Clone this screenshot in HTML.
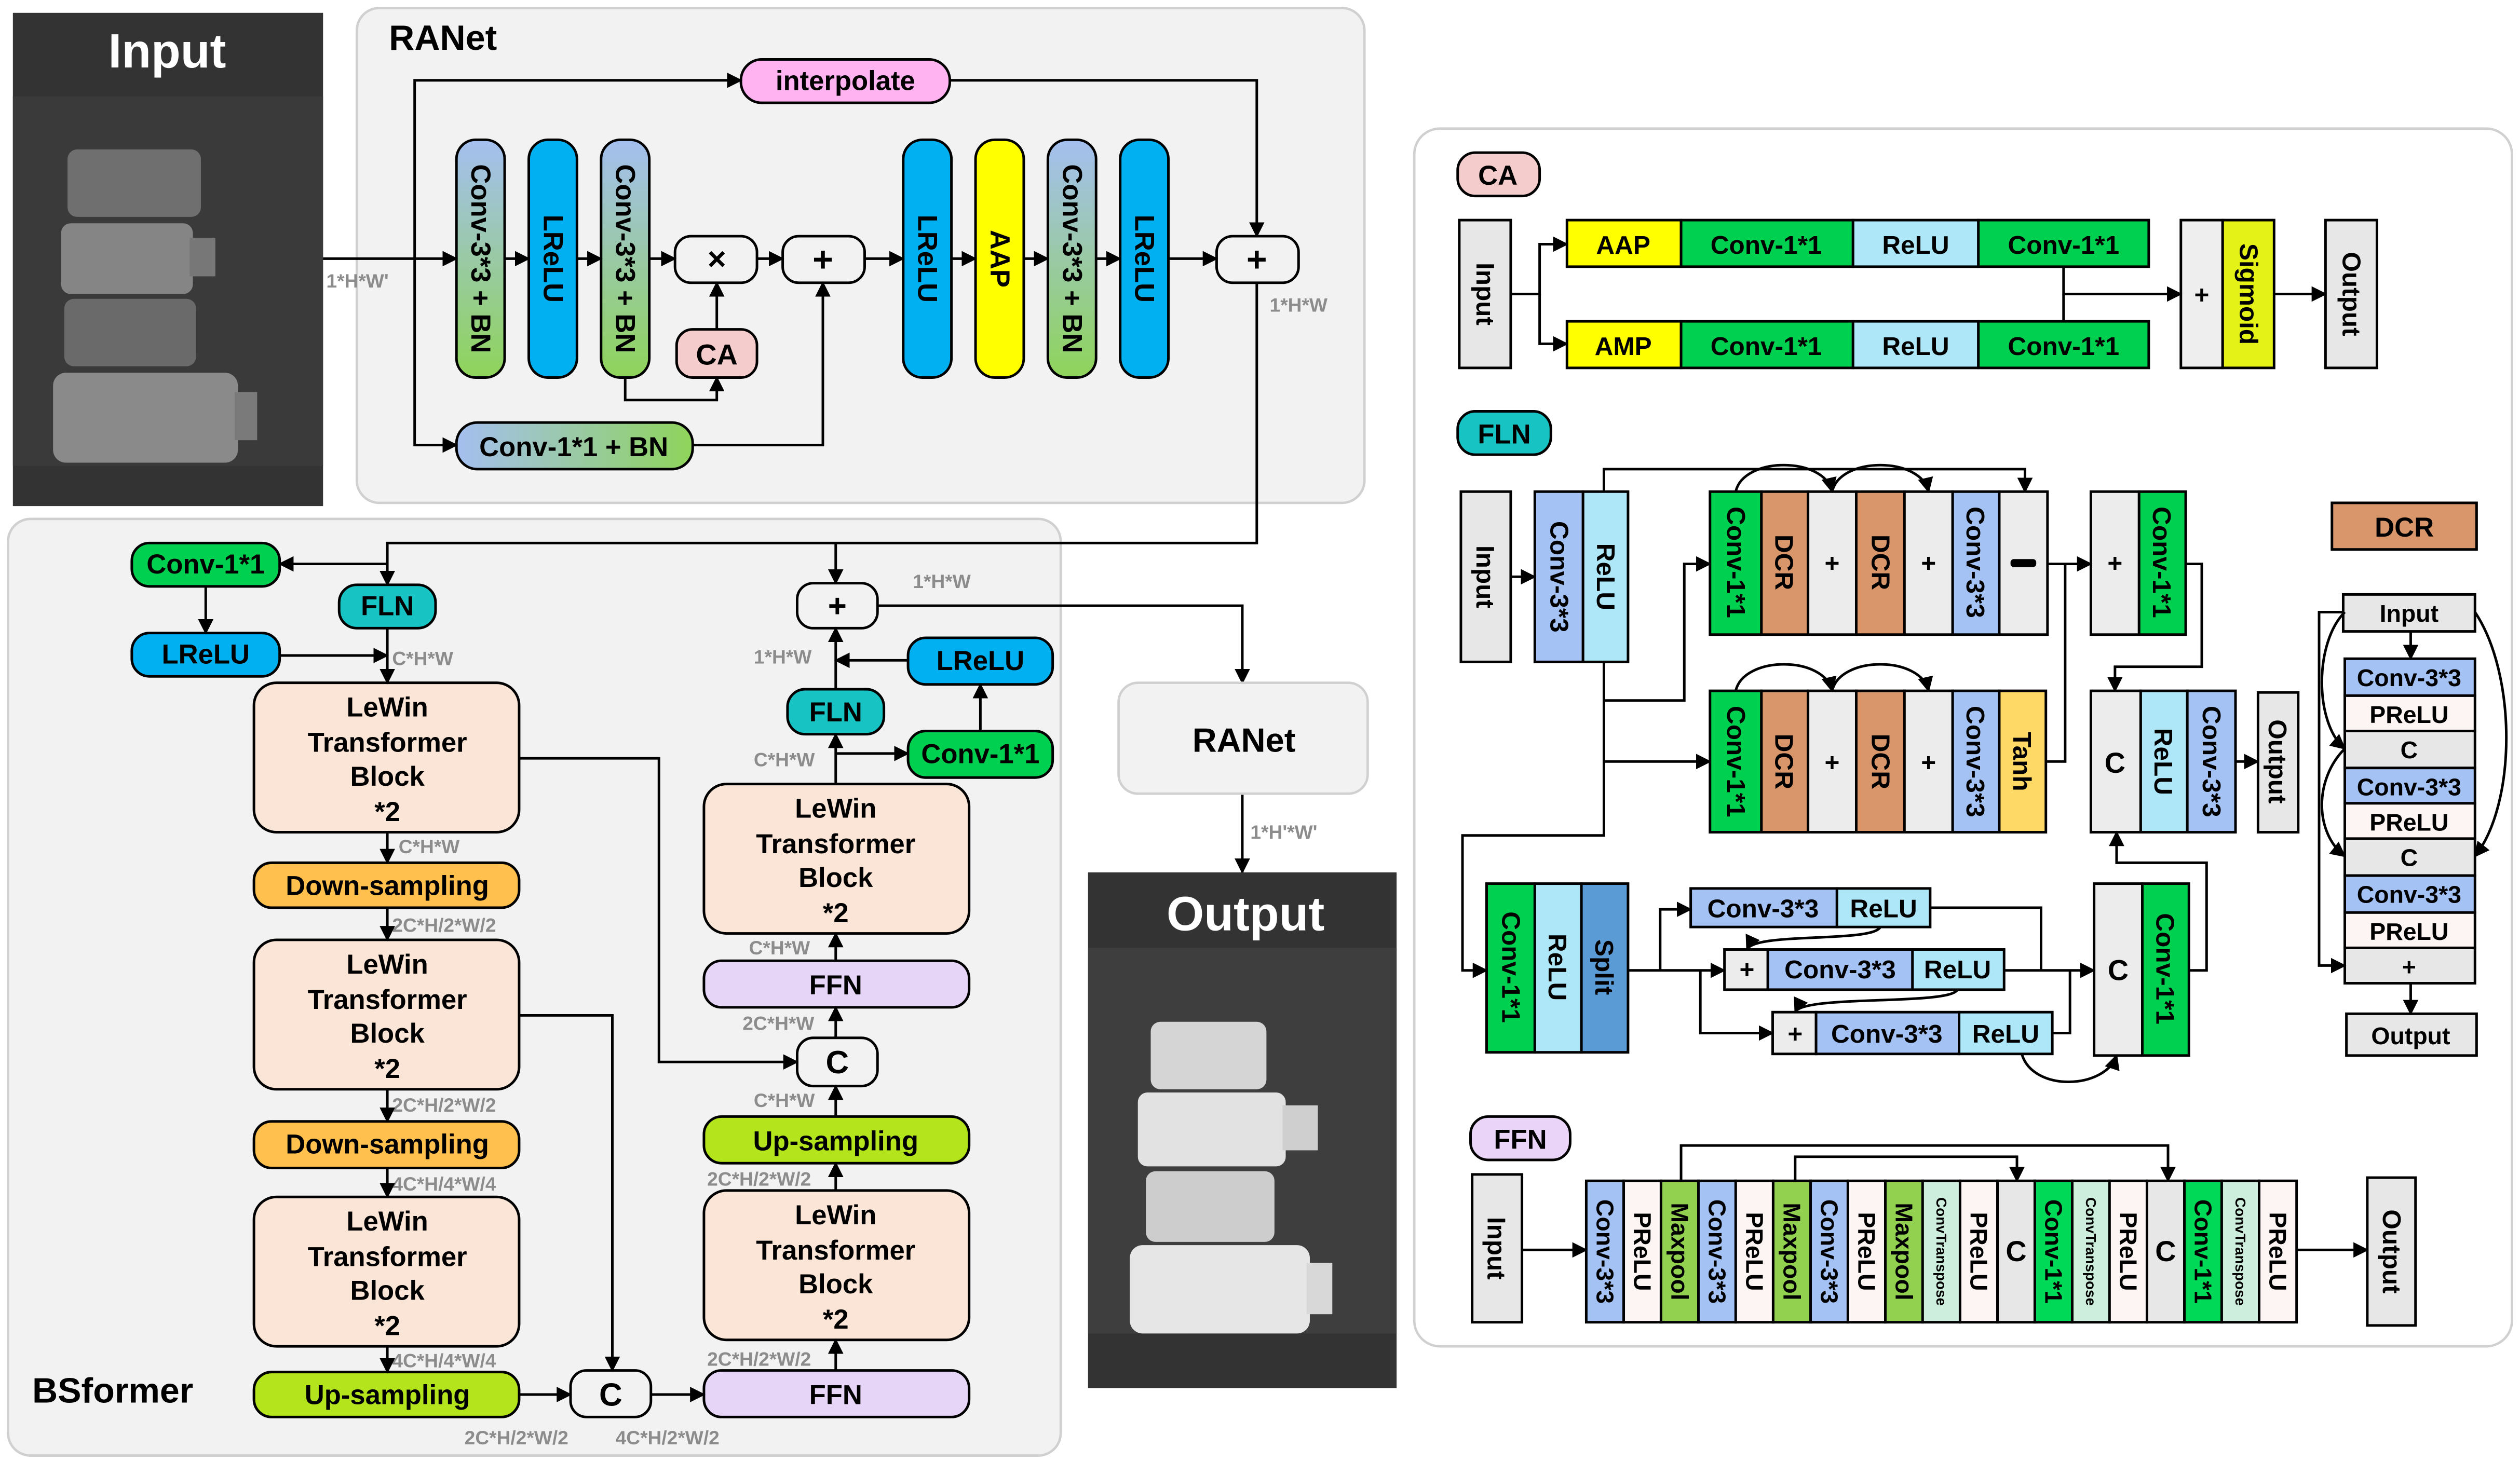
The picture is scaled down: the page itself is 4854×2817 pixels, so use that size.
<!DOCTYPE html>
<html><head><meta charset="utf-8"><style>
html,body{margin:0;padding:0;background:#fff}
svg{display:block}
text{font-family:"Liberation Sans",sans-serif;font-weight:bold;fill:#000}
text.g,.g text{fill:#8c8c8c;font-size:12px}
.s{stroke:#000;stroke-width:1.6}
.l{fill:none;stroke:#000;stroke-width:1.6}
</style></head><body>
<svg width="4854" height="2817" viewBox="0 0 1568 910" xmlns="http://www.w3.org/2000/svg">
<defs>
<marker id="a" viewBox="0 0 10 10" refX="9" refY="5" markerWidth="6" markerHeight="6" orient="auto"><path d="M0,0L10,5L0,10z" fill="#000"/></marker>
<linearGradient id="gb" x1="0" y1="0" x2="0" y2="1"><stop offset="0" stop-color="#a4bff0"/><stop offset="1" stop-color="#8fd45a"/></linearGradient>
<linearGradient id="gh" x1="0" y1="0" x2="1" y2="0"><stop offset="0" stop-color="#a4bff0"/><stop offset="1" stop-color="#8fd45a"/></linearGradient>
</defs>
<rect width="1568" height="910" fill="#fff"/>

<!-- Input image -->
<rect x="8" y="8" width="193" height="307" fill="#333"/>
<rect x="8" y="60" width="193" height="230" fill="#3a3a3a"/>
<rect x="42" y="93" width="83" height="42" rx="6" fill="#6f6f6f"/>
<rect x="38" y="139" width="82" height="44" rx="6" fill="#858585"/><rect x="118" y="148" width="16" height="24" fill="#777"/>
<rect x="40" y="186" width="82" height="42" rx="6" fill="#6a6a6a"/>
<rect x="33" y="232" width="115" height="56" rx="8" fill="#8a8a8a"/><rect x="146" y="244" width="14" height="30" fill="#7a7a7a"/>
<text x="104" y="42" font-size="30" style="fill:#fff" text-anchor="middle">Input</text>

<!-- RANet panel -->
<rect x="222" y="5" width="627" height="308" rx="14" fill="#f2f2f2" stroke="#d0d0d0" stroke-width="1.5"/>
<text x="242" y="31" font-size="22">RANet</text>
<rect x="461" y="37" width="130" height="27" rx="13" fill="#ffb3f0" class="s"/>
<text x="526" y="56" font-size="17" text-anchor="middle">interpolate</text>

<rect x="284" y="87" width="30" height="148" rx="12" fill="url(#gb)" class="s"/>
<text transform="translate(299,161) rotate(90)" font-size="17" text-anchor="middle" dominant-baseline="central">Conv-3*3 + BN</text>
<rect x="329" y="87" width="30" height="148" rx="12" fill="#00b0f0" class="s"/>
<text transform="translate(344,161) rotate(90)" font-size="17" text-anchor="middle" dominant-baseline="central">LReLU</text>
<rect x="374" y="87" width="30" height="148" rx="12" fill="url(#gb)" class="s"/>
<text transform="translate(389,161) rotate(90)" font-size="17" text-anchor="middle" dominant-baseline="central">Conv-3*3 + BN</text>
<rect x="420" y="147" width="51" height="29" rx="10" fill="#f2f2f2" class="s"/>
<text x="446" y="168" font-size="20" text-anchor="middle">×</text>
<rect x="487" y="147" width="51" height="29" rx="10" fill="#f2f2f2" class="s"/>
<text x="512" y="169" font-size="22" text-anchor="middle">+</text>
<rect x="421" y="205" width="50" height="30" rx="10" fill="#f4cccc" class="s"/>
<text x="446" y="227" font-size="18" text-anchor="middle">CA</text>
<rect x="562" y="87" width="30" height="148" rx="12" fill="#00b0f0" class="s"/>
<text transform="translate(577,161) rotate(90)" font-size="17" text-anchor="middle" dominant-baseline="central">LReLU</text>
<rect x="607" y="87" width="30" height="148" rx="12" fill="#ffff00" class="s"/>
<text transform="translate(622,161) rotate(90)" font-size="17" text-anchor="middle" dominant-baseline="central">AAP</text>
<rect x="652" y="87" width="30" height="148" rx="12" fill="url(#gb)" class="s"/>
<text transform="translate(667,161) rotate(90)" font-size="17" text-anchor="middle" dominant-baseline="central">Conv-3*3 + BN</text>
<rect x="697" y="87" width="30" height="148" rx="12" fill="#00b0f0" class="s"/>
<text transform="translate(712,161) rotate(90)" font-size="17" text-anchor="middle" dominant-baseline="central">LReLU</text>
<rect x="757" y="147" width="51" height="29" rx="10" fill="#f2f2f2" class="s"/>
<text x="782" y="169" font-size="22" text-anchor="middle">+</text>
<rect x="284" y="263" width="147" height="29" rx="13" fill="url(#gh)" class="s"/>
<text x="357" y="284" font-size="17" text-anchor="middle">Conv-1*1 + BN</text>
<text x="203" y="179" class="g">1*H*W'</text>
<text x="790" y="194" class="g">1*H*W</text>

<g class="l" marker-end="url(#a)">
<path d="M201 161H284"/><path d="M258 161V50H461"/><path d="M591 50H782V147"/><path d="M258 161V277H284"/>
<path d="M314 161H329"/><path d="M359 161H374"/><path d="M404 161H420"/><path d="M471 161H487"/><path d="M538 161H562"/>
<path d="M592 161H607"/><path d="M637 161H652"/><path d="M682 161H697"/><path d="M727 161H757"/>
<path d="M389 235V249H446V235"/><path d="M446 205V176"/><path d="M431 277H512V176"/>
</g>

<!-- BSformer panel -->
<rect x="5" y="323" width="655" height="583" rx="14" fill="#f2f2f2" stroke="#d0d0d0" stroke-width="1.5"/>
<g class="l" marker-end="url(#a)">
<path d="M782 176V338H241V364"/><path d="M520 338V363"/>
</g>
<text x="20" y="873" font-size="22">BSformer</text>

<rect x="82" y="338" width="92" height="27" rx="11" fill="#00d050" class="s"/><text x="128" y="357" font-size="17" text-anchor="middle">Conv-1*1</text>
<rect x="211" y="364" width="60" height="27" rx="11" fill="#17c3c3" class="s"/><text x="241" y="383" font-size="17" text-anchor="middle">FLN</text>
<rect x="82" y="394" width="92" height="27" rx="11" fill="#00b0f0" class="s"/><text x="128" y="413" font-size="17" text-anchor="middle">LReLU</text>

<g font-size="17">
<rect x="158" y="425" width="165" height="93" rx="14" fill="#fbe5d6" class="s"/>
<text x="241" y="446" text-anchor="middle">LeWin</text><text x="241" y="468" text-anchor="middle">Transformer</text><text x="241" y="489" text-anchor="middle">Block</text><text x="241" y="511" text-anchor="middle">*2</text>
<rect x="158" y="537" width="165" height="28" rx="11" fill="#ffc04d" class="s"/><text x="241" y="557" text-anchor="middle">Down-sampling</text>
<rect x="158" y="585" width="165" height="93" rx="14" fill="#fbe5d6" class="s"/>
<text x="241" y="606" text-anchor="middle">LeWin</text><text x="241" y="628" text-anchor="middle">Transformer</text><text x="241" y="649" text-anchor="middle">Block</text><text x="241" y="671" text-anchor="middle">*2</text>
<rect x="158" y="698" width="165" height="29" rx="11" fill="#ffc04d" class="s"/><text x="241" y="718" text-anchor="middle">Down-sampling</text>
<rect x="158" y="745" width="165" height="93" rx="14" fill="#fbe5d6" class="s"/>
<text x="241" y="766" text-anchor="middle">LeWin</text><text x="241" y="788" text-anchor="middle">Transformer</text><text x="241" y="809" text-anchor="middle">Block</text><text x="241" y="831" text-anchor="middle">*2</text>
<rect x="158" y="854" width="165" height="28" rx="11" fill="#b4e51c" class="s"/><text x="241" y="874" text-anchor="middle">Up-sampling</text>
<rect x="355" y="853" width="50" height="29" rx="10" fill="#f2f2f2" class="s"/><text x="380" y="875" font-size="20" text-anchor="middle">C</text>
<rect x="438" y="853" width="165" height="29" rx="11" fill="#e6d5f7" class="s"/><text x="520" y="874" text-anchor="middle">FFN</text>
<rect x="438" y="741" width="165" height="93" rx="14" fill="#fbe5d6" class="s"/>
<text x="520" y="762" text-anchor="middle">LeWin</text><text x="520" y="784" text-anchor="middle">Transformer</text><text x="520" y="805" text-anchor="middle">Block</text><text x="520" y="827" text-anchor="middle">*2</text>
<rect x="438" y="695" width="165" height="29" rx="11" fill="#b4e51c" class="s"/><text x="520" y="716" text-anchor="middle">Up-sampling</text>
<rect x="496" y="646" width="50" height="30" rx="10" fill="#f2f2f2" class="s"/><text x="521" y="668" font-size="20" text-anchor="middle">C</text>
<rect x="438" y="598" width="165" height="29" rx="11" fill="#e6d5f7" class="s"/><text x="520" y="619" text-anchor="middle">FFN</text>
<rect x="438" y="488" width="165" height="93" rx="14" fill="#fbe5d6" class="s"/>
<text x="520" y="509" text-anchor="middle">LeWin</text><text x="520" y="531" text-anchor="middle">Transformer</text><text x="520" y="552" text-anchor="middle">Block</text><text x="520" y="574" text-anchor="middle">*2</text>
<rect x="565" y="455" width="90" height="29" rx="11" fill="#00d050" class="s"/><text x="610" y="475" text-anchor="middle">Conv-1*1</text>
<rect x="490" y="429" width="60" height="28" rx="11" fill="#17c3c3" class="s"/><text x="520" y="449" text-anchor="middle">FLN</text>
<rect x="565" y="397" width="90" height="29" rx="11" fill="#00b0f0" class="s"/><text x="610" y="417" text-anchor="middle">LReLU</text>
<rect x="496" y="363" width="50" height="28" rx="10" fill="#f2f2f2" class="s"/><text x="521" y="384" font-size="20" text-anchor="middle">+</text>
</g>

<g>
<text class="g" x="244" y="414">C*H*W</text><text class="g" x="248" y="531">C*H*W</text><text class="g" x="244" y="580">2C*H/2*W/2</text>
<text class="g" x="244" y="692">2C*H/2*W/2</text><text class="g" x="244" y="741">4C*H/4*W/4</text><text class="g" x="244" y="851">4C*H/4*W/4</text>
<text class="g" x="289" y="899">2C*H/2*W/2</text><text class="g" x="383" y="899">4C*H/2*W/2</text><text class="g" x="440" y="850">2C*H/2*W/2</text>
<text class="g" x="440" y="738">2C*H/2*W/2</text><text class="g" x="469" y="689">C*H*W</text><text class="g" x="462" y="641">2C*H*W</text>
<text class="g" x="466" y="594">C*H*W</text><text class="g" x="469" y="477">C*H*W</text><text class="g" x="469" y="413">1*H*W</text><text class="g" x="568" y="366">1*H*W</text>
<text class="g" x="778" y="522">1*H'*W'</text>
</g>

<g class="l" marker-end="url(#a)">
<path d="M241 351H174"/><path d="M128 365V394"/><path d="M174 408H241"/><path d="M241 391V425"/>
<path d="M241 518V537"/><path d="M241 565V585"/><path d="M241 678V698"/><path d="M241 727V745"/><path d="M241 838V854"/>
<path d="M323 472H410V661H496"/><path d="M323 632H381V853"/><path d="M323 868H355"/><path d="M405 868H438"/>
<path d="M520 853V834"/><path d="M520 741V724"/><path d="M520 695V676"/><path d="M520 646V627"/><path d="M520 598V581"/>
<path d="M520 488V457"/><path d="M520 469H565"/><path d="M610 455V426"/><path d="M565 411H520"/><path d="M520 429V391"/>
<path d="M546 377H773V425"/><path d="M773 494V543"/>
</g>

<!-- RANet box -->
<rect x="696" y="425" width="155" height="69" rx="12" fill="#f2f2f2" stroke="#d0d0d0" stroke-width="1.5"/>
<text x="774" y="468" font-size="21" text-anchor="middle">RANet</text>

<!-- Output image -->
<rect x="677" y="543" width="192" height="321" fill="#333"/>
<rect x="677" y="590" width="192" height="240" fill="#3e3e3e"/>
<rect x="716" y="636" width="72" height="42" rx="6" fill="#d5d5d5"/>
<rect x="708" y="680" width="92" height="46" rx="6" fill="#e2e2e2"/><rect x="798" y="688" width="22" height="28" fill="#cfcfcf"/>
<rect x="713" y="729" width="80" height="44" rx="6" fill="#cdcdcd"/>
<rect x="703" y="775" width="112" height="55" rx="8" fill="#e6e6e6"/><rect x="813" y="786" width="16" height="32" fill="#d8d8d8"/>
<text x="775" y="579" font-size="30" style="fill:#fff" text-anchor="middle">Output</text>

<!-- Right panel -->
<rect x="880" y="80" width="683" height="758" rx="16" fill="#fff" stroke="#d0d0d0" stroke-width="1.5"/>

<!-- CA -->
<rect x="907" y="95" width="51" height="27" rx="11" fill="#f4cccc" class="s"/><text x="932" y="115" font-size="17" text-anchor="middle">CA</text>
<rect x="908" y="137" width="32" height="92" fill="#e7e7e7" class="s"/>
<text transform="translate(924,183) rotate(90)" font-size="16" text-anchor="middle" dominant-baseline="central">Input</text>
<g font-size="16">
<rect x="975" y="137" width="71" height="29" fill="#ffff00" class="s"/><text x="1010" y="158" text-anchor="middle">AAP</text>
<rect x="1046" y="137" width="107" height="29" fill="#00d050" class="s"/><text x="1099" y="158" text-anchor="middle">Conv-1*1</text>
<rect x="1153" y="137" width="78" height="29" fill="#aee8f8" class="s"/><text x="1192" y="158" text-anchor="middle">ReLU</text>
<rect x="1231" y="137" width="106" height="29" fill="#00d050" class="s"/><text x="1284" y="158" text-anchor="middle">Conv-1*1</text>
<rect x="975" y="200" width="71" height="29" fill="#ffff00" class="s"/><text x="1010" y="221" text-anchor="middle">AMP</text>
<rect x="1046" y="200" width="107" height="29" fill="#00d050" class="s"/><text x="1099" y="221" text-anchor="middle">Conv-1*1</text>
<rect x="1153" y="200" width="78" height="29" fill="#aee8f8" class="s"/><text x="1192" y="221" text-anchor="middle">ReLU</text>
<rect x="1231" y="200" width="106" height="29" fill="#00d050" class="s"/><text x="1284" y="221" text-anchor="middle">Conv-1*1</text>
<rect x="1357" y="137" width="26" height="92" fill="#eee" class="s"/><text x="1370" y="189" text-anchor="middle">+</text>
<rect x="1383" y="137" width="32" height="92" fill="#e5f218" class="s"/>
<text transform="translate(1399,183) rotate(90)" text-anchor="middle" dominant-baseline="central">Sigmoid</text>
<rect x="1447" y="137" width="32" height="92" fill="#e7e7e7" class="s"/>
<text transform="translate(1463,183) rotate(90)" text-anchor="middle" dominant-baseline="central">Output</text>
</g>
<g class="l" marker-end="url(#a)">
<path d="M940 183H958V152H975"/><path d="M958 183V214H975"/><path d="M1284 166V183H1357"/><path d="M1415 183H1447"/>
</g>
<path d="M1284 200V183" class="l"/>

<!-- FLN -->
<rect x="907" y="256" width="58" height="27" rx="11" fill="#17c3c3" class="s"/><text x="936" y="276" font-size="17" text-anchor="middle">FLN</text>
<g font-size="16">
<rect x="909" y="306" width="31" height="106" fill="#e7e7e7" class="s"/>
<text transform="translate(924,359) rotate(90)" text-anchor="middle" dominant-baseline="central">Input</text>
<rect x="955" y="306" width="30" height="106" fill="#a4c2f4" class="s"/>
<text transform="translate(970,359) rotate(90)" text-anchor="middle" dominant-baseline="central">Conv-3*3</text>
<rect x="985" y="306" width="28" height="106" fill="#aee8f8" class="s"/>
<text transform="translate(999,359) rotate(90)" text-anchor="middle" dominant-baseline="central">ReLU</text>

<rect x="1064" y="306" width="32" height="89" fill="#00d050" class="s"/><text transform="translate(1080,350) rotate(90)" text-anchor="middle" dominant-baseline="central">Conv-1*1</text>
<rect x="1096" y="306" width="29" height="89" fill="#d9966a" class="s"/><text transform="translate(1110,350) rotate(90)" text-anchor="middle" dominant-baseline="central">DCR</text>
<rect x="1125" y="306" width="30" height="89" fill="#ececec" class="s"/><text x="1140" y="356" text-anchor="middle">+</text>
<rect x="1155" y="306" width="30" height="89" fill="#d9966a" class="s"/><text transform="translate(1170,350) rotate(90)" text-anchor="middle" dominant-baseline="central">DCR</text>
<rect x="1185" y="306" width="30" height="89" fill="#ececec" class="s"/><text x="1200" y="356" text-anchor="middle">+</text>
<rect x="1215" y="306" width="29" height="89" fill="#a4c2f4" class="s"/><text transform="translate(1229,350) rotate(90)" text-anchor="middle" dominant-baseline="central">Conv-3*3</text>
<rect x="1244" y="306" width="30" height="89" fill="#ececec" class="s"/><rect x="1251" y="348" width="16" height="5" rx="2" fill="#000"/>

<rect x="1064" y="430" width="32" height="88" fill="#00d050" class="s"/><text transform="translate(1080,474) rotate(90)" text-anchor="middle" dominant-baseline="central">Conv-1*1</text>
<rect x="1096" y="430" width="29" height="88" fill="#d9966a" class="s"/><text transform="translate(1110,474) rotate(90)" text-anchor="middle" dominant-baseline="central">DCR</text>
<rect x="1125" y="430" width="30" height="88" fill="#ececec" class="s"/><text x="1140" y="480" text-anchor="middle">+</text>
<rect x="1155" y="430" width="30" height="88" fill="#d9966a" class="s"/><text transform="translate(1170,474) rotate(90)" text-anchor="middle" dominant-baseline="central">DCR</text>
<rect x="1185" y="430" width="30" height="88" fill="#ececec" class="s"/><text x="1200" y="480" text-anchor="middle">+</text>
<rect x="1215" y="430" width="29" height="88" fill="#a4c2f4" class="s"/><text transform="translate(1229,474) rotate(90)" text-anchor="middle" dominant-baseline="central">Conv-3*3</text>
<rect x="1244" y="430" width="29" height="88" fill="#ffd966" class="s"/><text transform="translate(1258,474) rotate(90)" text-anchor="middle" dominant-baseline="central">Tanh</text>

<rect x="1301" y="306" width="30" height="89" fill="#ececec" class="s"/><text x="1316" y="356" text-anchor="middle">+</text>
<rect x="1331" y="306" width="29" height="89" fill="#00d050" class="s"/><text transform="translate(1345,350) rotate(90)" text-anchor="middle" dominant-baseline="central">Conv-1*1</text>
<rect x="1301" y="430" width="31" height="88" fill="#ececec" class="s"/><text x="1316" y="481" font-size="18" text-anchor="middle">C</text>
<rect x="1332" y="430" width="29" height="88" fill="#aee8f8" class="s"/><text transform="translate(1346,474) rotate(90)" text-anchor="middle" dominant-baseline="central">ReLU</text>
<rect x="1361" y="430" width="30" height="88" fill="#a4c2f4" class="s"/><text transform="translate(1376,474) rotate(90)" text-anchor="middle" dominant-baseline="central">Conv-3*3</text>
<rect x="1405" y="431" width="25" height="87" fill="#e7e7e7" class="s"/><text transform="translate(1417,474) rotate(90)" text-anchor="middle" dominant-baseline="central">Output</text>

<rect x="925" y="550" width="30" height="105" fill="#00d050" class="s"/><text transform="translate(940,602) rotate(90)" text-anchor="middle" dominant-baseline="central">Conv-1*1</text>
<rect x="955" y="550" width="29" height="105" fill="#aee8f8" class="s"/><text transform="translate(969,602) rotate(90)" text-anchor="middle" dominant-baseline="central">ReLU</text>
<rect x="984" y="550" width="29" height="105" fill="#5b9bd5" class="s"/><text transform="translate(998,602) rotate(90)" text-anchor="middle" dominant-baseline="central">Split</text>

<rect x="1052" y="553" width="91" height="24" fill="#a4c2f4" class="s"/><text x="1097" y="571" text-anchor="middle">Conv-3*3</text>
<rect x="1143" y="553" width="58" height="24" fill="#aee8f8" class="s"/><text x="1172" y="571" text-anchor="middle">ReLU</text>
<rect x="1073" y="591" width="27" height="25" fill="#ececec" class="s"/><text x="1087" y="609" text-anchor="middle">+</text>
<rect x="1100" y="591" width="90" height="25" fill="#a4c2f4" class="s"/><text x="1145" y="609" text-anchor="middle">Conv-3*3</text>
<rect x="1190" y="591" width="57" height="25" fill="#aee8f8" class="s"/><text x="1218" y="609" text-anchor="middle">ReLU</text>
<rect x="1103" y="630" width="27" height="26" fill="#ececec" class="s"/><text x="1117" y="649" text-anchor="middle">+</text>
<rect x="1130" y="630" width="89" height="26" fill="#a4c2f4" class="s"/><text x="1174" y="649" text-anchor="middle">Conv-3*3</text>
<rect x="1219" y="630" width="58" height="26" fill="#aee8f8" class="s"/><text x="1248" y="649" text-anchor="middle">ReLU</text>
<rect x="1303" y="550" width="30" height="107" fill="#ececec" class="s"/><text x="1318" y="610" font-size="18" text-anchor="middle">C</text>
<rect x="1333" y="550" width="29" height="107" fill="#00d050" class="s"/><text transform="translate(1347,603) rotate(90)" text-anchor="middle" dominant-baseline="central">Conv-1*1</text>
</g>
<g class="l" marker-end="url(#a)">
<path d="M940 359H955"/><path d="M998 306V292H1260V306"/><path d="M998 436H1048V351H1064"/><path d="M998 474H1064"/>
<path d="M998 412V520H910V604H925"/>
<path d="M1080 306C1085 284 1135 284 1140 306"/><path d="M1140 306C1145 284 1195 284 1200 306"/>
<path d="M1080 430C1085 408 1135 408 1140 430"/><path d="M1140 430C1145 408 1195 408 1200 430"/>
<path d="M1274 351H1301"/><path d="M1360 351H1370V415H1316V430"/><path d="M1391 474H1405"/>
<path d="M1013 604H1073"/><path d="M1033 604V566H1052"/><path d="M1058 604V643H1103"/>
<path d="M1170 577C1165 587 1092 580 1087 591"/><path d="M1218 616C1213 626 1122 619 1117 630"/>
<path d="M1247 604H1303"/><path d="M1258 656C1265 680 1310 678 1317 657"/><path d="M1362 604H1373V537H1317V518"/>
</g>
<g class="l"><path d="M1285 351V474H1273"/><path d="M1201 565H1270V604"/><path d="M1277 643H1288V604"/></g>

<!-- DCR -->
<rect x="1451" y="313" width="90" height="29" fill="#d9966a" class="s"/><text x="1496" y="334" font-size="17" text-anchor="middle">DCR</text>
<g font-size="15">
<rect x="1458" y="370" width="82" height="23" fill="#e7e7e7" class="s"/><text x="1499" y="387" text-anchor="middle">Input</text>
<rect x="1459" y="410" width="81" height="23" fill="#a4c2f4" class="s"/><text x="1499" y="427" text-anchor="middle">Conv-3*3</text>
<rect x="1459" y="433" width="81" height="22" fill="#fdf4f4" class="s"/><text x="1499" y="450" text-anchor="middle">PReLU</text>
<rect x="1459" y="455" width="81" height="23" fill="#e7e7e7" class="s"/><text x="1499" y="472" text-anchor="middle">C</text>
<rect x="1459" y="478" width="81" height="22" fill="#a4c2f4" class="s"/><text x="1499" y="495" text-anchor="middle">Conv-3*3</text>
<rect x="1459" y="500" width="81" height="22" fill="#fdf4f4" class="s"/><text x="1499" y="517" text-anchor="middle">PReLU</text>
<rect x="1459" y="522" width="81" height="23" fill="#e7e7e7" class="s"/><text x="1499" y="539" text-anchor="middle">C</text>
<rect x="1459" y="545" width="81" height="23" fill="#a4c2f4" class="s"/><text x="1499" y="562" text-anchor="middle">Conv-3*3</text>
<rect x="1459" y="568" width="81" height="22" fill="#fdf4f4" class="s"/><text x="1499" y="585" text-anchor="middle">PReLU</text>
<rect x="1459" y="590" width="81" height="22" fill="#e7e7e7" class="s"/><text x="1499" y="607" text-anchor="middle">+</text>
<rect x="1460" y="631" width="81" height="26" fill="#e7e7e7" class="s"/><text x="1500" y="650" text-anchor="middle">Output</text>
</g>
<g class="l" marker-end="url(#a)">
<path d="M1500 393V410"/><path d="M1458 381H1443V601H1459"/>
<path d="M1459 381C1440 400 1440 450 1459 466"/><path d="M1459 466C1440 485 1440 518 1459 533"/>
<path d="M1540 381C1566 420 1566 500 1540 533"/><path d="M1500 612V631"/>
</g>

<!-- FFN -->
<rect x="915" y="695" width="62" height="27" rx="11" fill="#ead5f9" class="s"/><text x="946" y="715" font-size="17" text-anchor="middle">FFN</text>
<rect x="916" y="731" width="31" height="92" fill="#e7e7e7" class="s"/>
<text transform="translate(931,777) rotate(90)" font-size="16" text-anchor="middle" dominant-baseline="central">Input</text>
<rect x="1473" y="733" width="30" height="92" fill="#e7e7e7" class="s"/>
<text transform="translate(1488,779) rotate(90)" font-size="16" text-anchor="middle" dominant-baseline="central">Output</text>
<g font-size="15">
<rect x="987.0" y="735" width="23.3" height="88" fill="#a4c2f4" class="s"/><text transform="translate(998.6,779) rotate(90)" text-anchor="middle" dominant-baseline="central">Conv-3*3</text>
<rect x="1010.3" y="735" width="23.3" height="88" fill="#fdf4f4" class="s"/><text transform="translate(1021.9,779) rotate(90)" text-anchor="middle" dominant-baseline="central">PReLU</text>
<rect x="1033.5" y="735" width="23.3" height="88" fill="#92d050" class="s"/><text transform="translate(1045.2,779) rotate(90)" text-anchor="middle" dominant-baseline="central">Maxpool</text>
<rect x="1056.8" y="735" width="23.3" height="88" fill="#a4c2f4" class="s"/><text transform="translate(1068.4,779) rotate(90)" text-anchor="middle" dominant-baseline="central">Conv-3*3</text>
<rect x="1080.0" y="735" width="23.3" height="88" fill="#fdf4f4" class="s"/><text transform="translate(1091.7,779) rotate(90)" text-anchor="middle" dominant-baseline="central">PReLU</text>
<rect x="1103.3" y="735" width="23.3" height="88" fill="#92d050" class="s"/><text transform="translate(1114.9,779) rotate(90)" text-anchor="middle" dominant-baseline="central">Maxpool</text>
<rect x="1126.6" y="735" width="23.3" height="88" fill="#a4c2f4" class="s"/><text transform="translate(1138.2,779) rotate(90)" text-anchor="middle" dominant-baseline="central">Conv-3*3</text>
<rect x="1149.8" y="735" width="23.3" height="88" fill="#fdf4f4" class="s"/><text transform="translate(1161.5,779) rotate(90)" text-anchor="middle" dominant-baseline="central">PReLU</text>
<rect x="1173.1" y="735" width="23.3" height="88" fill="#92d050" class="s"/><text transform="translate(1184.7,779) rotate(90)" text-anchor="middle" dominant-baseline="central">Maxpool</text>
<rect x="1196.3" y="735" width="23.3" height="88" fill="#cdeedd" class="s"/><text transform="translate(1208,779) rotate(90)" font-size="9" text-anchor="middle" dominant-baseline="central">ConvTranspose</text>
<rect x="1219.6" y="735" width="23.3" height="88" fill="#fdf4f4" class="s"/><text transform="translate(1231.2,779) rotate(90)" text-anchor="middle" dominant-baseline="central">PReLU</text>
<rect x="1242.9" y="735" width="23.3" height="88" fill="#e7e7e7" class="s"/><text x="1254.5" y="785" font-size="18" text-anchor="middle">C</text>
<rect x="1266.1" y="735" width="23.3" height="88" fill="#00d858" class="s"/><text transform="translate(1277.8,779) rotate(90)" text-anchor="middle" dominant-baseline="central">Conv-1*1</text>
<rect x="1289.4" y="735" width="23.3" height="88" fill="#cdeedd" class="s"/><text transform="translate(1301,779) rotate(90)" font-size="9" text-anchor="middle" dominant-baseline="central">ConvTranspose</text>
<rect x="1312.6" y="735" width="23.3" height="88" fill="#fdf4f4" class="s"/><text transform="translate(1324.3,779) rotate(90)" text-anchor="middle" dominant-baseline="central">PReLU</text>
<rect x="1335.9" y="735" width="23.3" height="88" fill="#e7e7e7" class="s"/><text x="1347.5" y="785" font-size="18" text-anchor="middle">C</text>
<rect x="1359.2" y="735" width="23.3" height="88" fill="#00d858" class="s"/><text transform="translate(1370.8,779) rotate(90)" text-anchor="middle" dominant-baseline="central">Conv-1*1</text>
<rect x="1382.4" y="735" width="23.3" height="88" fill="#cdeedd" class="s"/><text transform="translate(1394,779) rotate(90)" font-size="9" text-anchor="middle" dominant-baseline="central">ConvTranspose</text>
<rect x="1405.7" y="735" width="23.3" height="88" fill="#fdf4f4" class="s"/><text transform="translate(1417.3,779) rotate(90)" text-anchor="middle" dominant-baseline="central">PReLU</text>
</g>
<g class="l" marker-end="url(#a)">
<path d="M947 778H987"/><path d="M1429 778H1473"/>
<path d="M1046 735V713H1349V735"/><path d="M1117 735V720H1255V735"/>
</g>
</svg>
</body></html>
